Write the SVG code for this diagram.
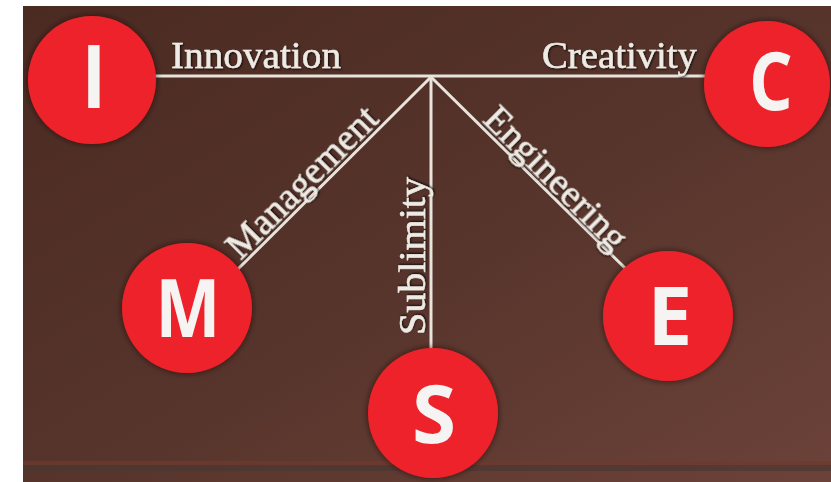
<svg xmlns="http://www.w3.org/2000/svg" width="831" height="482" viewBox="0 0 831 482">
  <defs>
    <linearGradient id="bg" x1="0" y1="0" x2="1" y2="1">
      <stop offset="0" stop-color="#4b2a22"/>
      <stop offset="0.5" stop-color="#56342b"/>
      <stop offset="1" stop-color="#6c4239"/>
    </linearGradient>
    <filter id="halo" x="-20%" y="-20%" width="140%" height="140%">
      <feDropShadow dx="0" dy="0" stdDeviation="3" flood-color="#1a0805" flood-opacity="0.7"/>
    </filter>
    <filter id="tshadow" x="-10%" y="-30%" width="120%" height="160%">
      <feDropShadow dx="1" dy="1" stdDeviation="0.8" flood-color="#000" flood-opacity="0.8"/>
    </filter>
  </defs>
  <style>
    .node circle { fill: #ee2229; filter: url(#halo); }
    .letter { font-family: "Open Sans", "Liberation Sans", sans-serif; font-weight: 700; fill: #f6f4f2; text-anchor: middle; }
    .conn line { stroke: #e8e4dc; stroke-width: 3; stroke-linecap: round; }
    .label { font-family: "Liberation Serif", "Times New Roman", serif; font-size: 38px; fill: #eeeae4; stroke: #eeeae4; stroke-width: 0.5; filter: url(#tshadow); }
  </style>

  <rect x="0" y="0" width="831" height="482" fill="#ffffff"/>
  <rect x="23" y="6" width="808" height="476" fill="url(#bg)"/>
  <rect x="23" y="461" width="808" height="4" fill="#6e3a2e" opacity="0.8"/>
  <rect x="23" y="465" width="808" height="6" fill="#4a3833" opacity="0.7"/>

  <g id="connectors" class="conn">
    <line x1="156" y1="76" x2="708" y2="76"/>
    <line x1="431" y1="77" x2="238" y2="269"/>
    <line x1="431" y1="77" x2="431" y2="350"/>
    <line x1="431" y1="77" x2="625" y2="268"/>
  </g>

  <g id="labels">
    <text class="label" x="171" y="68" textLength="170" lengthAdjust="spacingAndGlyphs">Innovation</text>
    <text class="label" x="542" y="68" textLength="155" lengthAdjust="spacingAndGlyphs">Creativity</text>
    <text class="label" transform="translate(240.5,260.9) rotate(-45)" x="0" y="0" textLength="198" lengthAdjust="spacingAndGlyphs">Management</text>
    <text class="label" transform="translate(425,335) rotate(-90)" x="0" y="0" textLength="158" lengthAdjust="spacingAndGlyphs">Sublimity</text>
    <text class="label" transform="translate(481.5,120.9) rotate(45)" x="0" y="0" textLength="186" lengthAdjust="spacingAndGlyphs">Engineering</text>
  </g>

  <g id="node-I" class="node">
    <circle cx="92" cy="80" r="64"/>
    <text class="letter" transform="translate(94,108) scale(0.85,1)" font-size="88">I</text>
  </g>
  <g id="node-C" class="node">
    <circle cx="767" cy="84" r="63"/>
    <text class="letter" transform="translate(771,110) scale(0.86,1)" font-size="80">C</text>
  </g>
  <g id="node-M" class="node">
    <circle cx="187" cy="308" r="65"/>
    <text class="letter" transform="translate(188,337) scale(0.86,1)" font-size="80">M</text>
  </g>
  <g id="node-S" class="node">
    <circle cx="433" cy="413" r="65"/>
    <text class="letter" x="434" y="443" font-size="80">S</text>
  </g>
  <g id="node-E" class="node">
    <circle cx="668" cy="316" r="65"/>
    <text class="letter" x="670" y="345" font-size="80">E</text>
  </g>
</svg>
